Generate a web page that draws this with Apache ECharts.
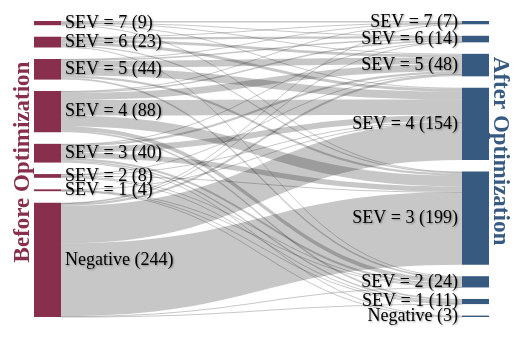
<!DOCTYPE html>
<html>

<head>
  <title>Severity Sankey</title>
  <style>
    html, body {
      margin: 0;
      padding: 0;
      background: #fff;
    }

    #chart {
      width: 522px;
      height: 338px;
    }
  </style>
</head>

<body>
  <div id="chart"></div>
</body>
<script src="https://cdn.jsdelivr.net/npm/echarts@6/dist/echarts.min.js"></script>
<script>
  // 优化前后的类别
  const beforeLabels = ['SEV = 7', 'SEV = 6', 'SEV = 5', 'SEV = 4', 'SEV = 3', 'SEV = 2', 'SEV = 1', 'Negative']
  const beforeCounts = [9, 23, 44, 88, 40, 8, 4, 244]
  const afterLabels = ['SEV = 7', 'SEV = 6', 'SEV = 5', 'SEV = 4', 'SEV = 3', 'SEV = 2', 'SEV = 1', 'Negative']
  const afterCounts = [7, 14, 48, 154, 199, 24, 11, 3]

  // 行: 优化前, 列: 优化后
  const flowS7 = [3, 1, 2, 2, 1, 0, 0, 0]
  const flowS6 = [1, 5, 6, 6, 3, 2, 0, 0]
  const flowS5 = [1, 3, 14, 17, 5, 4, 0, 0]
  const flowS4 = [1, 3, 15, 33, 23, 9, 4, 0]
  const flowS3 = [0, 1, 5, 13, 11, 5, 3, 2]
  const flowS2 = [0, 0, 1, 2, 1, 2, 2, 0]
  const flowS1 = [0, 0, 0, 1, 0, 1, 1, 1]
  const flowNeg = [1, 1, 5, 80, 155, 1, 1, 0]
  const flows = [flowS7, flowS6, flowS5, flowS4, flowS3, flowS2, flowS1, flowNeg]

  const beforeColor = '#872f4c'
  const afterColor = '#375a81'
  const font = 'Liberation Serif'

  let chart = echarts.init(document.getElementById('chart'))

  let nodes = []
  beforeLabels.forEach((l, i) => {
    nodes.push({
      name: 'b' + i,
      depth: 0,
      itemStyle: { color: beforeColor },
      label: { position: 'right', formatter: `${l} (${beforeCounts[i]})` },
    })
  })
  afterLabels.forEach((l, i) => {
    nodes.push({
      name: 'a' + i,
      depth: 1,
      itemStyle: { color: afterColor },
      label: { position: 'left', formatter: `${l} (${afterCounts[i]})` },
    })
  })

  let links = []
  flows.forEach((row, i) => {
    row.forEach((v, j) => {
      if (v > 0) links.push({ source: 'b' + i, target: 'a' + j, value: v })
    })
  })

  let option = {
    animation: false,
    graphic: [
      {
        type: 'text',
        x: 23,
        y: 162,
        rotation: Math.PI / 2,
        style: {
          text: 'Before Optimization',
          fill: beforeColor,
          font: `bold 23px "${font}"`,
          textAlign: 'center',
          textVerticalAlign: 'middle',
        },
      },
      {
        type: 'text',
        x: 500,
        y: 151,
        rotation: -Math.PI / 2,
        style: {
          text: 'After Optimization',
          fill: afterColor,
          font: `bold 23px "${font}"`,
          textAlign: 'center',
          textVerticalAlign: 'middle',
        },
      },
    ],
    series: [
      {
        type: 'sankey',
        left: 34,
        right: 33,
        top: 21,
        bottom: 21,
        nodeWidth: 27,
        nodeGap: 11.5,
        layoutIterations: 0,
        emphasis: { disabled: true },
        label: {
          color: '#000',
          fontFamily: font,
          fontSize: 18,
          distance: 4,
          textShadowColor: 'rgba(0,0,0,0.35)',
          textShadowBlur: 2,
          textShadowOffsetX: 1,
          textShadowOffsetY: 1,
        },
        itemStyle: { borderWidth: 0 },
        lineStyle: {
          color: '#000',
          opacity: 0.22,
          curveness: 0.5,
        },
        data: nodes,
        links: links,
      },
    ],
  }
  chart.setOption(option)
</script>

</html>
